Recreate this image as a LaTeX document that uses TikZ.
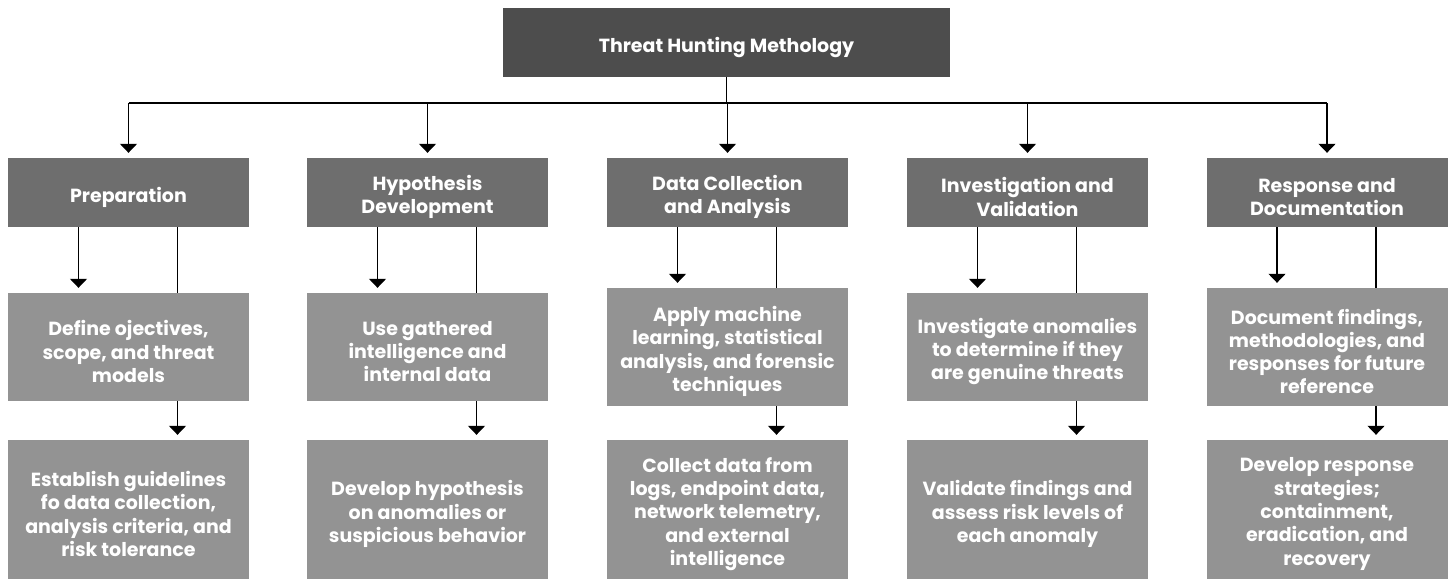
\documentclass[tikz,border=0pt]{standalone}
\usepackage{fontspec}
\setmainfont{Poppins}
\usetikzlibrary{arrows.meta}
\definecolor{topc}{HTML}{4D4D4D}
\definecolor{headc}{HTML}{6E6E6E}
\definecolor{boxc}{HTML}{939393}
\tikzset{
  box/.style={fill=#1, inner sep=0pt},
  lbl/.style={text=white, inner sep=0pt, align=center, yshift=-4.5pt,
    font=\bfseries\fontsize{19}{23.3}\selectfont},
  arr/.style={line width=1.3pt, -{Triangle[width=17pt,length=9pt]}, shorten >=5pt},
  ln/.style={line width=1.3pt},
}
\begin{document}
\begin{tikzpicture}[x=1pt,y=-1pt]
\useasboundingbox (0,0) rectangle (1448,579);
\node[box=topc, minimum width=447pt, minimum height=69pt,
  label={[lbl]center:Threat Hunting Methology}] (top) at (726.5,42.5) {};

\foreach \i/\cx/\txt in {1/128.5/{Preparation},2/427.5/{Hypothesis\\Development},3/727.5/{Data Collection\\and Analysis},4/1027.5/{Investigation and\\Validation},5/1327/{Response and\\Documentation}}{
  \node[box=headc, minimum width=241pt, minimum height=69pt,
    label={[lbl]center:{\txt}}] (h\i) at (\cx,192.5) {};
}
\foreach \i/\cx/\hh/\txt in {1/128.5/108/{Define ojectives,\\scope, and threat\\models},2/427.5/108/{Use gathered\\intelligence and\\internal data},3/727.5/118/{Apply machine\\learning, statistical\\analysis, and forensic\\techniques},4/1027.5/108/{Investigate anomalies\\to determine if they\\are genuine threats},5/1327/118/{Document findings,\\methodologies, and\\responses for future\\reference}}{
  \node[box=boxc, minimum width=241pt, minimum height=\hh pt,
    label={[lbl]center:{\txt}}] (m\i) at (\cx,347) {};
}
\foreach \i/\cx/\txt in {1/128.5/{Establish guidelines\\fo data collection,\\analysis criteria, and\\risk tolerance},2/427.5/{Develop hypothesis\\on anomalies or\\suspicious behavior},3/727.5/{Collect data from\\logs, endpoint data,\\network telemetry,\\and external\\intelligence},4/1027.5/{Validate findings and\\assess risk levels of\\each anomaly},5/1327/{Develop response\\strategies;\\containment,\\eradication, and\\recovery}}{
  \node[box=boxc, minimum width=241pt, minimum height=139pt,
    label={[lbl]center:{\txt}}] (b\i) at (\cx,509.5) {};
}

\coordinate (bus) at (726.5,103);
\draw[ln] (top.south) -- (bus);
\draw[ln] (h1.north |- bus) -- (h5.north |- bus);
\foreach \i in {1,...,5}{
  \draw[arr] (h\i.north |- bus) -- (h\i.north);
  \draw[arr] ([xshift=-50pt]h\i.south) -- ([xshift=-50pt]m\i.north);
  \draw[ln] ([xshift=49pt]h\i.south) -- ([xshift=49pt]m\i.north);
  \draw[arr] ([xshift=49pt]m\i.south) -- ([xshift=49pt]b\i.north);
}
\end{tikzpicture}
\end{document}
